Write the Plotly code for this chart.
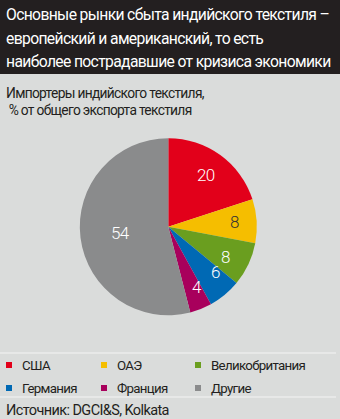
import math
import plotly.graph_objects as go

# Data: share of India's textile exports by importer, %
countries = ["США", "ОАЭ", "Великобритания", "Германия", "Франция", "Другие"]
shares = [20, 8, 8, 6, 4, 54]
colors = ["#e2001a", "#f5be00", "#6a9e1f", "#0069b4", "#a8005c", "#8a8b8c"]
label_colors = ["#ffffff", "#333333", "#ffffff", "#ffffff", "#ffffff", "#ffffff"]
label_radius = [0.72, 0.82, 0.80, 0.84, 0.88, 0.55]   # radial position of value labels

title_lines = [
    "Основные рынки сбыта индийского текстиля –",
    "европейский и американский, то есть",
    "наиболее пострадавшие от кризиса экономики",
]
subtitle_lines = ["Импортеры индийского текстиля,", " % от общего экспорта текстиля"]
source = "Источник: DGCI&S, Kolkata"

W, H = 340, 419
FONT = "Roboto, sans-serif"
BG = "#dadcdb"
DARK = "#231f20"
INK = "#231f20"

def py(px):
    return 1 - px / H

def tight(t, ls=-0.65):
    # tightened tracking for a condensed look
    return '<span style="letter-spacing:%spx">%s</span>' % (ls, t)

# pie geometry in pixels
cx, cy, R = 168.3, 226.7, 88.5

fig = go.Figure(go.Pie(
    labels=countries, values=shares, sort=False, direction="clockwise",
    rotation=0, marker=dict(colors=colors, line=dict(width=0)),
    textinfo="none", hoverinfo="label+value", showlegend=False,
    domain=dict(x=[(cx - R) / W, (cx + R) / W],
                y=[(H - cy - R) / H, (H - cy + R) / H]),
))

annotations = []
shapes = []

# value labels placed at the middle angle of each slice
total = sum(shares)
cum = 0
for v, col, rf in zip(shares, label_colors, label_radius):
    mid = (cum + v / 2) / total * 2 * math.pi
    cum += v
    x = cx + rf * R * math.sin(mid)
    y = cy - rf * R * math.cos(mid)
    annotations.append(dict(x=x / W, y=py(y), xref="paper", yref="paper",
                            text=tight(str(v), -0.8), showarrow=False,
                            font=dict(family=FONT, size=17, color=col, weight=300)))

# header
shapes.append(dict(type="rect", xref="paper", yref="paper", x0=0, x1=1,
                   y0=py(74), y1=1, fillcolor=DARK, line=dict(width=0), layer="below"))
for i, t in enumerate(title_lines):
    annotations.append(dict(x=4 / W, y=py(15 + i * 23.5), xref="paper", yref="paper",
                            xanchor="left", yanchor="middle", text=tight(t), showarrow=False,
                            font=dict(family=FONT, size=15.7, color="#ffffff")))
for i, t in enumerate(subtitle_lines):
    annotations.append(dict(x=4 / W, y=py(93 + i * 17), xref="paper", yref="paper",
                            xanchor="left", yanchor="middle", text=tight(t, -0.7), showarrow=False,
                            font=dict(family=FONT, size=13.8, color=INK)))

# separator lines
for yl in (353, 397):
    shapes.append(dict(type="line", xref="paper", yref="paper", x0=0, x1=336 / W,
                       y0=py(yl), y1=py(yl), line=dict(color="#f4f4f4", width=1)))

# legend
col_x = [6, 101, 195]
row_y = [365, 388]
for i, (name, c) in enumerate(zip(countries, colors)):
    x0 = col_x[i % 3]
    yc = row_y[i // 3]
    shapes.append(dict(type="rect", xref="paper", yref="paper",
                       x0=x0 / W, x1=(x0 + 6) / W, y0=py(yc + 3), y1=py(yc - 3),
                       fillcolor=c, line=dict(width=0)))
    annotations.append(dict(x=(x0 + 14) / W, y=py(yc), xref="paper", yref="paper",
                            xanchor="left", yanchor="middle", text=tight(name, -0.7), showarrow=False,
                            font=dict(family=FONT, size=13.3, color=INK)))

annotations.append(dict(x=4 / W, y=py(410), xref="paper", yref="paper",
                        xanchor="left", yanchor="middle", text=tight(source, -0.6), showarrow=False,
                        font=dict(family=FONT, size=14.5, color=INK)))

fig.update_layout(width=W, height=H, margin=dict(l=0, r=0, t=0, b=0),
                  paper_bgcolor=BG, plot_bgcolor=BG,
                  annotations=annotations, shapes=shapes)
fig.write_html("out.html")
